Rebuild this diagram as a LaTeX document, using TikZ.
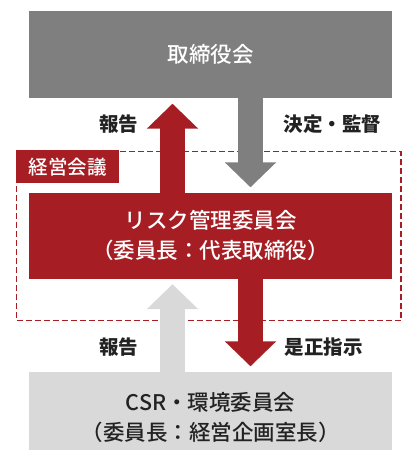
\documentclass[tikz,border=0pt]{standalone}
\usepackage{fontspec}
\setmainfont{Noto Sans CJK JP}
\newfontfamily\medfont{Noto Sans CJK JP Medium}
\usetikzlibrary{arrows.meta}
\definecolor{riskred}{RGB}{166,30,36}
\definecolor{boardgray}{RGB}{127,127,127}
\definecolor{csrgray}{RGB}{217,217,217}
\definecolor{darktext}{RGB}{34,34,34}
\tikzset{
  bigbox/.style={inner sep=0pt, minimum width=363pt, align=center, font=\medfont\fontsize{21.5}{30}\selectfont},
  blockarrow/.style={line width=25pt, -{Triangle[width=50pt,length=25pt]}, shorten >=5.5pt},
  flowlabel/.style={text=darktext, font=\fontsize{19.5}{22}\selectfont\bfseries},
}
\begin{document}
\begin{tikzpicture}[x=1pt,y=-1pt]
\clip (0,0) rectangle (402,450);
\coordinate (lx) at (172.5,0);
\coordinate (rx) at (250.5,0);
% dashed frame
\node[draw=riskred, line width=1.5pt, dash pattern=on 6pt off 3pt, minimum width=384.3pt, minimum height=169pt, inner sep=0pt] (keiei) at (208.85,236.2) {};
\node[fill=riskred, text=white, anchor=north west, minimum width=103pt, minimum height=33pt, inner sep=0pt, font=\medfont\fontsize{19.5}{22}\selectfont] (keieilabel) at (16,150.2) {経営会議};
% boxes
\node[bigbox, fill=boardgray, text=white, minimum height=87pt] (board) at (210.5,54.5) {取締役会};
\node[bigbox, fill=riskred, text=white, minimum height=85.5pt] (risk) at (210.5,235.75) {リスク管理委員会\\（委員長：代表取締役）};
\node[bigbox, fill=csrgray, text=darktext, minimum height=91pt] (csr) at (210.5,417.5) {CSR・環境委員会\\（委員長：経営企画室長）};
% arrows
\draw[blockarrow, draw=riskred, fill=riskred] (risk.north -| lx) -- (board.south -| lx);
\draw[blockarrow, draw=boardgray, fill=boardgray] (board.south -| rx) -- (risk.north -| rx);
\draw[blockarrow, draw=csrgray, fill=csrgray] (csr.north -| lx) -- (risk.south -| lx);
\draw[blockarrow, draw=riskred, fill=riskred] (risk.south -| rx) -- (csr.north -| rx);
% labels
\node[flowlabel] (rep1) at (118.5,124) {報告};
\node[flowlabel] (dec) at (332.5,124) {決定・監督};
\node[flowlabel] (rep2) at (118.5,347) {報告};
\node[flowlabel] (corr) at (323.5,347) {是正指示};
\end{tikzpicture}
\end{document}
